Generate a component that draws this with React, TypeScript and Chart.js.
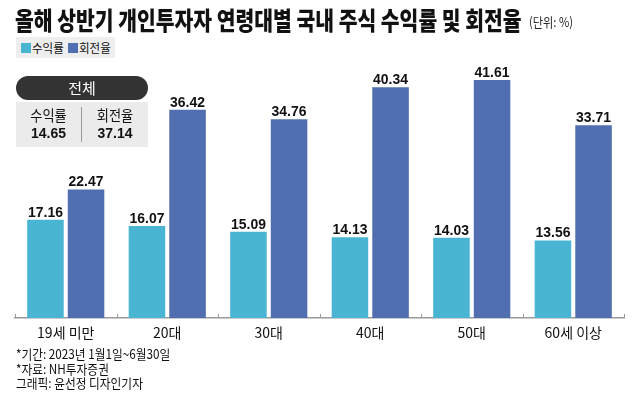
import React, { useEffect, useRef } from "react";
import { Chart, registerables } from "chart.js";

Chart.register(...registerables);

const categories = ["19세 미만", "20대", "30대", "40대", "50대", "60세 이상"];
const returnRates = [17.16, 16.07, 15.09, 14.13, 14.03, 13.56];
const turnoverRates = [22.47, 36.42, 34.76, 40.34, 41.61, 33.71];
const seriesNames = ["수익률", "회전율"];
const totalLabel = "전체";
const totalValues = ["14.65", "37.14"];
const titleText = "올해 상반기 개인투자자 연령대별 국내 주식 수익률 및 회전율";
const unitText = "(단위: %)";
const notes = ["*기간: 2023년 1월1일~6월30일", "*자료: NH투자증권", "그래픽: 윤선정 디자인기자"];
const yMax = 50;

const CYAN = "#4ab4d3";
const BLUE = "#516eb0";
const KFONT = "'Noto Sans CJK KR', 'Noto Sans', sans-serif";

const valueLabels = {
  id: "valueLabels",
  afterDatasetsDraw(chart: any) {
    const ctx = chart.ctx;
    chart.data.datasets.forEach((ds: any, di: number) => {
      const meta = chart.getDatasetMeta(di);
      meta.data.forEach((el: any, i: number) => {
        const v = ds.data[i];
        ctx.save();
        ctx.translate(el.x, el.y - 3);
        ctx.scale(0.93, 1);
        ctx.font = "bold 15px 'Liberation Sans', Arial, sans-serif";
        ctx.fillStyle = "#111";
        ctx.textAlign = "center";
        ctx.textBaseline = "alphabetic";
        ctx.fillText(Number(v).toFixed(2), 0, 0);
        ctx.restore();
      });
    });
  },
};

const upTicks = {
  id: "upTicks",
  afterDraw(chart: any) {
    const x = chart.scales.x;
    const n = chart.data.labels.length;
    const ctx = chart.ctx;
    const bottom = chart.chartArea.bottom;
    ctx.save();
    ctx.strokeStyle = "#999";
    ctx.lineWidth = 1;
    for (let i = 0; i <= n; i++) {
      const px = Math.round(x.getPixelForValue(i - 0.5)) + 0.5;
      ctx.beginPath();
      ctx.moveTo(px, bottom - 4);
      ctx.lineTo(px, bottom);
      ctx.stroke();
    }
    ctx.restore();
  },
};

function Cond({ children, scale, style }: any) {
  return (
    <span
      style={{
        display: "inline-block",
        transform: `scaleX(${scale})`,
        transformOrigin: "left center",
        whiteSpace: "nowrap",
        ...style,
      }}
    >
      {children}
    </span>
  );
}

export default function App() {
  const ref = useRef<HTMLCanvasElement>(null);

  useEffect(() => {
    if (!ref.current) return;
    const chart = new Chart(ref.current, {
      type: "bar",
      data: {
        labels: categories,
        datasets: [
          {
            label: seriesNames[0],
            data: returnRates,
            backgroundColor: CYAN,
            categoryPercentage: 0.8,
            barPercentage: 0.9,
          },
          {
            label: seriesNames[1],
            data: turnoverRates,
            backgroundColor: BLUE,
            categoryPercentage: 0.8,
            barPercentage: 0.9,
          },
        ],
      },
      options: {
        responsive: false,
        animation: false,
        devicePixelRatio: 1,
        layout: { padding: { top: 32, left: 15, right: 16, bottom: 0 } },
        plugins: {
          legend: { display: false },
          tooltip: { enabled: false },
        },
        scales: {
          x: {
            grid: { display: false },
            border: { display: true, color: "#9a9a9a", width: 1.5 },
            ticks: {
              color: "#111",
              padding: -2,
              font: { family: KFONT, size: 14 },
              maxRotation: 0,
              autoSkip: false,
            },
            afterFit: (scale: any) => {
              scale.height = 79;
            },
          },
          y: {
            display: false,
            min: 0,
            max: yMax,
          },
        },
      },
      plugins: [valueLabels, upTicks],
    });
    return () => chart.destroy();
  }, []);

  return (
    <div
      style={{
        position: "fixed",
        left: 0,
        top: 0,
        width: 640,
        height: 397,
        background: "#fff",
        fontFamily: KFONT,
        color: "#111",
        overflow: "hidden",
      }}
    >
      <canvas ref={ref} width={640} height={397} style={{ position: "absolute", left: 0, top: 0 }} />

      {/* Title */}
      <div style={{ position: "absolute", left: 15, top: 7, lineHeight: "25px", fontSize: 25, fontWeight: 900 }}>
        <Cond scale={0.816}>{titleText}</Cond>
      </div>
      <div style={{ position: "absolute", left: 529, top: 14, lineHeight: "16px", fontSize: 13, color: "#222" }}>
        <Cond scale={0.86}>{unitText}</Cond>
      </div>

      {/* Legend */}
      <div style={{ position: "absolute", left: 16, top: 37, width: 99, height: 21, background: "#eeeeee" }} />
      <div style={{ position: "absolute", left: 21, top: 43, width: 10, height: 10, background: CYAN }} />
      <div style={{ position: "absolute", left: 32, top: 40, lineHeight: "16px", fontSize: 12 }}>
        <Cond scale={0.96}>{seriesNames[0]}</Cond>
      </div>
      <div style={{ position: "absolute", left: 68, top: 43, width: 10, height: 10, background: BLUE }} />
      <div style={{ position: "absolute", left: 79, top: 40, lineHeight: "16px", fontSize: 12 }}>
        <Cond scale={0.96}>{seriesNames[1]}</Cond>
      </div>

      {/* Total box */}
      <div
        style={{
          position: "absolute",
          left: 16,
          top: 76,
          width: 132,
          height: 24,
          borderRadius: 12,
          background: "#333",
          color: "#fff",
          fontSize: 15,
          lineHeight: "24px",
          textAlign: "center",
        }}
      >
        {totalLabel}
      </div>
      <div style={{ position: "absolute", left: 16, top: 102, width: 132, height: 45, background: "#ebebeb" }} />
      <div style={{ position: "absolute", left: 81, top: 107, width: 1, height: 35, background: "#999" }} />
      {[0, 1].map((k) => (
        <div
          key={k}
          style={{
            position: "absolute",
            left: k === 0 ? 16 : 82,
            top: 105,
            width: k === 0 ? 65 : 66,
            textAlign: "center",
          }}
        >
          <div style={{ fontSize: 15, lineHeight: "19px", transform: "scaleX(0.88)" }}>{seriesNames[k]}</div>
          <div
            style={{
              fontSize: 15,
              lineHeight: "17px",
              fontWeight: 700,
              fontFamily: "'Liberation Sans', Arial, sans-serif",
              transform: "scaleX(0.93)",
            }}
          >
            {totalValues[k]}
          </div>
        </div>
      ))}

      {/* Notes */}
      {notes.map((t, i) => (
        <div
          key={i}
          style={{ position: "absolute", left: 16, top: 346 + i * 14.5, lineHeight: "16px", fontSize: 13 }}
        >
          <Cond scale={0.9}>{t}</Cond>
        </div>
      ))}
    </div>
  );
}
